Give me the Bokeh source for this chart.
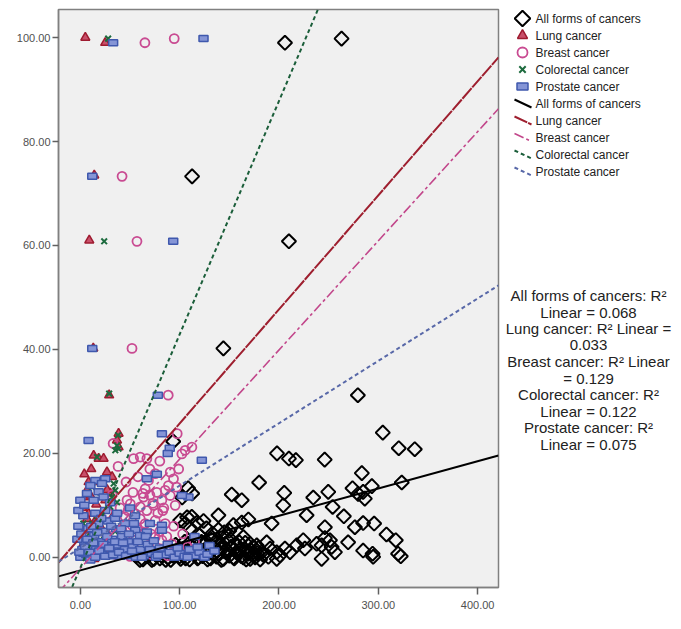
from bokeh.models import (
    Range1d,
    FixedTicker,
    NumeralTickFormatter,
)
from bokeh.plotting import figure
from bokeh.layouts import row
from bokeh.core.properties import value
from bokeh.embed import file_html
from bokeh.resources import INLINE

# data
all_x = [206, 263, 112.5, 210, 144, 279.4, 304.5, 320.6, 336.7, 198, 210, 217, 246, 93.5, 180,
         152.4, 162.5, 205.3, 204.3, 234.5, 249.6, 254, 279.7, 286.4, 284.7, 283.4, 274, 293.5, 323.6,
         108.5, 102.5, 112.6, 100.5, 105.5, 110.5, 117.6, 107.5,
         139, 124, 112.2, 169.2, 162.5, 154.1, 192.6, 227.8, 265.3, 246.2, 276.4, 284.7, 295.8, 308.2,
         317.6, 269.6, 284.7, 294.2, 294.8, 319.9, 322.6, 242.9, 256.3, 246.2, 251.3, 237.9, 242.9, 253,
         224.4, 217.8, 226.1, 211.1, 206, 197.7, 201, 187.6, 191, 182.6, 177.6, 170.9, 164.1, 169.2,
         174.2, 189.3, 197.7,
         63, 68, 72, 76, 80, 84, 88, 91, 95, 98, 101, 104, 107, 110, 112, 115, 118, 120, 123, 125,
         128, 130, 132, 135, 137, 140, 142, 145, 147, 150, 152, 155, 157, 160, 162, 165, 167, 172,
         176, 179, 184, 120, 133, 145, 105, 96, 88, 139, 127, 150,
         100, 103, 106, 109, 113, 116, 119, 122, 126, 129, 131, 134, 136, 139, 141, 144, 146, 149,
         151, 154, 156, 159, 161, 164, 166, 168, 171, 174, 178, 181, 56, 60, 66, 74, 82, 86, 93]
all_y = [99, 99.8, 73.3, 60.8, 40.2, 31.2, 24.0, 21.0, 20.8, 20.0, 19.0, 18.7, 18.8, 22.3, 14.4,
         12.1, 11.0, 12.4, 10.0, 11.5, 12.6, 9.7, 12.2, 11.3, 12.6, 16.2, 13.3, 13.7, 14.4,
         13.3, 11.5, 12.3, 7.1, 6.5, 5.6, 6.7, 7.7,
         8.1, 7.0, 7.8, 7.3, 6.7, 6.2, 6.5, 8.1, 7.9, 5.8, 5.8, 6.6, 6.5, 4.4,
         3.3, 2.9, 1.3, 0.7, 0.1, 0.7, 0.2, -0.3, 1.0, 3.7, 3.3, 2.6, 2.3, 2.0,
         3.3, 2.3, 1.7, 1.0, 1.7, 1.0, 0.4, 2.9, 1.7, 1.0, 2.3, 2.6, 3.9, 0.7,
         0.4, 0.1, -0.3,
         -0.4, 0.2, -0.5, 0.5, -0.2, 0.8, 0.0, -0.5, 0.6, 1.4, -0.3, 0.3, 1.1, -0.4, 2.0, 0.5, -0.2, 1.5, 0.2, 2.8,
         -0.4, 0.9, 3.4, 1.8, 0.1, 2.6, -0.5, 1.2, 3.6, 0.3, 2.1, -0.2, 1.0, 2.9, 0.2, 1.6, -0.4, 1.3,
         0.0, 1.8, 0.5, 4.2, 4.6, 4.8, 3.0, 2.4, 1.6, 5.3, 5.6, 5.1,
         0.2, 1.6, -0.2, 2.6, 0.8, 2.4, 0.0, 3.0, 1.3, 2.2, -0.2, 0.6, 3.0, 0.8, 1.8, -0.3, 2.6, 1.0,
         3.5, 0.0, 2.5, 0.7, 1.5, 0.0, 2.8, 1.2, -0.3, 2.0, 0.8, -0.4, 0.3, -0.5, 0.8, -0.3, 0.4, -0.5, 0.3]

lung_x = [5, 25, 14, 9, 13, 29, 38.5, 36.9, 38.5, 13.4, 18.4, 23.4, 26.8, 8.3, 6.7, 5, 10.1, 25.1,
          30.2, 8.3, 6.7, 15.1, 5, 3, 8, 12, 18, 22, 27, 1, 14, 30, 35, 10, 20, 40, 45, 2, 16, 33,
          4, 11, 20, 27, 32]
lung_y = [100, 99, 73.5, 61, 40.2, 31.2, 23.8, 22.5, 21.2, 19.6, 19.0, 19.0, 16.4, 14.5, 12.9, 11.6,
          11.9, 11.0, 12.3, 8.4, 7.4, 7.1, 5.2, 2.5, 1.0, 3.8, 0.4, 2.2, 4.5, 0.0, -0.3, 1.5, 3.0,
          5.8, 6.0, 0.8, 2.5, 9.5, 10.2, 8.0, 16, 17, 14.5, 13, 15.5]

breast_x = [65, 94.5, 42, 57, 52, 88.5, 97.5, 105.5, 112.3, 102.2, 53.6, 60.3, 67, 90.5, 93.8, 88.7,
            75.4, 68.6, 65.3, 63.6, 60.3, 73.7, 85.4, 90.5, 82.1, 95.5, 50.3, 55.3, 60.3, 65.3, 52,
            75.4, 85.4, 63.6, 75.4, 82.1, 55.3, 68.6, 45.2, 41.9, 92.2, 33, 38, 46, 30, 36, 44, 50,
            58, 72, 80, 88, 100, 108, 26, 20, 40, 70, 78, 47, 63, 73, 83,
            45, 48, 53, 57, 62, 67, 71, 77, 80, 84, 87, 94, 97, 103, 110, 115, 32, 28, 58, 70, 80, 99]
breast_y = [99, 99.8, 73.3, 60.8, 40.2, 31.2, 23.8, 20.6, 21.2, 19.9, 19.0, 19.3, 19.0, 16.4, 15.1,
            13.8, 16.1, 14.8, 13.2, 11.6, 9.7, 10.0, 12.9, 11.9, 11.0, 10.0, 10.3, 8.4, 7.4, 6.5, 6.2,
            7.1, 6.5, 4.6, 3.9, 3.3, 3.3, 2.3, 7.8, 5.2, 2.6, 21.9, 17.5, 14.5, 2.0, 0.5, 1.5, 0.2,
            1.0, 0.5, 1.2, 0.3, 1.0, 2.0, 4.5, 1.5, 9.5, 12.0, 8.5, 11.0, 12.3, 10.4, 9.0,
            3.5, 9.0, 12.5, 5.5, 2.0, 9.0, 4.5, 12.5, 5.0, 9.5, 4.0, 6.0, 13.5, 4.5, 1.0, 3.0, 12.0,
            8.5, 15.5, 17.0, 18.5, 17.0]

colo_x = [28, 24, 29, 36.9, 38.5, 35.2, 16.8, 33.5, 35.2, 31.9, 36.9, 30.2, 21.8, 26.8, 16.8, 11.8,
          6, 14, 20, 24, 30, 9, 35, 40, 3, 38, 12, 20]
colo_y = [99.8, 60.8, 31.5, 21.5, 20.9, 20.6, 19.3, 14.2, 12.9, 11.6, 10.6, 9.7, 8.4, 7.1, 7.1, 6.5,
          4.0, 2.5, 0.5, 3.4, 1.2, 0.2, 5.0, 2.0, 6.5, 23.5, 13.5, 12.5]

pros_x = [33, 124, 12, 93.5, 12, 78, 8.3, 82.1, 90, 88, 122.3, 77, 67, 108.8, 102.2, 82.1, 82.1, 67,
          55.3, 15.1, 10.1, 6.7, 18.4, 23.4, 13.4, 25.1, 21.8,
          0, 2, 4, 6, 8, 10, 12, 14, 16, 18, 20, 22, 24, 26, 28, 30, 32, 34, 36, 38, 40, 42, 45, 48,
          50, 53, 56, 60, 64, 68, 72, 76, 80, 85, 90, 95, 100, 105, 110, 115, 120, 125, 130, -2, 3,
          15, 25, 35, 45, 55, 0, -3, 10, 60, 70, 115,
          1, 3, 5, 7, 9, 11, 13, 15, 17, 19, 21, 23, 25, 27, 29, 31, 33, 35, 37, 39, 41, 43, 46, 49,
          52, 54, 58, 62, 66, 70, 74, 78, 88, 98, 108, 118, 128, 135, -1, -2, 4, 30, 50]
pros_y = [99, 99.8, 73.3, 60.8, 40.2, 31.2, 22.5, 23.8, 21, 20, 18.7, 16, 15.1, 11.6, 11.9, 6.2, 5.2,
          4.9, 5.2, 14.8, 13.8, 12.3, 12.6, 11.6, 11.0, 15.1, 14.2,
          0, 1.5, 3, 0.5, 5.5, 2.2, 0.2, 4.2, 1.5, 6.5, 3.0, 0.5, 5.0, 2.0, 7.0, 0.3, 3.5, 1.0, 5.5,
          2.4, 0.2, 4.0, 1.5, 3.0, 0.5, 2.0, 0.0, 1.5, 0.3, 2.5, 0.8, 0.0, 1.8, 0.5, 1.0, 0.0, 0.8,
          0.2, 1.5, 0.3, 1.0, 0.0, 2.3, 6.0, 8.0, 8.5, 9.0, 7.5, 6.5, 8.0, 11.0, 3.5, -0.5, 4.2, 6.5,
          4.0,
          4.5, 0.8, 2.0, 3.5, 1.0, 6.0, 2.8, 0.0, 4.8, 1.2, 7.5, 2.5, 0.2, 4.0, 1.8, 6.0, 0.5, 3.0,
          8.5, 1.0, 5.5, 2.8, 0.3, 4.5, 1.2, 6.5, 3.0, 0.0, 4.0, 1.5, 3.2, 0.4, 2.5, 1.8, 0.0, 2.0,
          0.6, 1.2, 1.0, 9.0, 10.0, 10.5, 9.5]

groups = ["All forms of cancers", "Lung cancer", "Breast cancer", "Colorectal cancer", "Prostate cancer"]
# linear fit lines (gradient, intercept)
fit_slope = [0.0525, 0.2194, 0.21, 0.449, 0.12]
fit_intercept = [-2.5, 3.83, -2.1, -2.0, 1.8]
r2 = ["0.068", "0.033", "0.129", "0.122", "0.075"]

x_ticks = [0, 100, 200, 300, 400]
y_ticks = [0, 20, 40, 60, 80, 100]

x_lo, x_hi = -22, 421
y_lo, y_hi = -5.8, 105.4

H = 620
frame_top, frame_bottom = 9, 587
p = figure(width=500, height=H, output_backend="svg", toolbar_location=None,
           x_range=Range1d(x_lo, x_hi), y_range=Range1d(y_lo, y_hi),
           min_border_left=58, min_border_right=2, min_border_top=frame_top,
           min_border_bottom=H - frame_bottom)
p.background_fill_color = "#f0f0f0"
p.border_fill_color = "white"
p.outline_line_color = "#808080"
p.outline_line_width = 1.5
p.grid.grid_line_color = None

for ax in (p.xaxis, p.yaxis):
    ax.formatter = NumeralTickFormatter(format="0.00")
    ax.axis_line_color = "#808080"
    ax.axis_line_width = 1.5
    ax.major_tick_line_color = "#606060"
    ax.major_tick_line_width = 1.5
    ax.major_tick_in = 0
    ax.major_tick_out = 6
    ax.minor_tick_line_color = None
    ax.major_label_text_font = "Liberation Sans"
    ax.major_label_text_font_size = "11px"
    ax.major_label_text_color = "#505050"
p.xaxis.ticker = FixedTicker(ticks=x_ticks)
p.yaxis.ticker = FixedTicker(ticks=y_ticks)
p.yaxis.major_label_standoff = 2
p.xaxis.major_tick_out = 7
p.xaxis.major_label_standoff = 6

styles = [
    dict(marker="square", angle=0.7854, size=10, fill_color=None, line_color="black", line_width=2),
    dict(marker="triangle", size=9, fill_color="#c8506a", line_color="#9e1b30", line_width=1.5),
    dict(marker="circle", size=9, fill_color=None, line_color="#c94b92", line_width=1.8),
    dict(marker="x", size=8, line_color="#1d6b3e", line_width=2),
]
rect_style = dict(fill_color="#8595d6", line_color="#3f58ad", line_width=1.5)
p.scatter(all_x, all_y, **styles[0])
p.scatter(lung_x, lung_y, **styles[1])
p.scatter(breast_x, breast_y, **styles[2])
p.scatter(colo_x, colo_y, **styles[3])
p.rect(pros_x, pros_y, width=9, height=6, width_units="screen", height_units="screen", **rect_style)

line_colors = ["black", "#9e1f2f", "#c2478b", "#1b5e3a", "#5868a8"]
line_dashes = ["solid", "14 1", "10 3 3 3", "4 3", "4 3"]
line_widths = [2, 2, 1.6, 2, 2]
for k in range(len(groups)):
    xs = [x_lo, x_hi]
    ys = [fit_intercept[k] + fit_slope[k] * x for x in xs]
    p.line(xs, ys, line_color=line_colors[k], line_dash=line_dashes[k], line_width=line_widths[k])

# right-hand panel in pixel units (its frame lines up with the main frame in the row)
side_w = 175
side = figure(width=side_w, height=H, output_backend="svg", toolbar_location=None,
              x_range=Range1d(0, side_w), y_range=Range1d(frame_bottom, frame_top),
              min_border_left=0, min_border_right=0, min_border_top=frame_top,
              min_border_bottom=H - frame_bottom)
side.axis.visible = False
side.grid.grid_line_color = None
side.outline_line_color = None
side.background_fill_color = "white"

key_x = 22
row_y = [18 + 17 * i for i in range(10)]
for i, s in enumerate(styles):
    big = dict(s)
    big["size"] = s["size"] + 1
    side.scatter([key_x], [row_y[i]], **big)
side.rect([key_x], [row_y[4]], width=11, height=7, width_units="screen", height_units="screen",
          **rect_style)
for k in range(5):
    yk = row_y[5 + k]
    side.segment(x0=[key_x - 8], y0=[yk - 4], x1=[key_x + 9], y1=[yk + 4],
                 line_color=line_colors[k], line_dash=line_dashes[k] if k else "solid",
                 line_width=line_widths[k])
side.text(x=[35] * 10, y=row_y, text=groups + groups, text_baseline="middle",
          text_font=value("Liberation Sans"), text_font_size="12px", text_color="#222222")

note_lines = [
    "All forms of cancers: R\u00b2", "Linear = " + r2[0],
    "Lung cancer: R\u00b2 Linear =", r2[1],
    "Breast cancer: R\u00b2 Linear", "= " + r2[2],
    "Colorectal cancer: R\u00b2", "Linear = " + r2[3],
    "Prostate cancer: R\u00b2", "Linear = " + r2[4],
]
note_cx = 88
note_y0 = 295
note_step = 16.5
side.text(x=[note_cx] * len(note_lines), y=[note_y0 + i * note_step for i in range(len(note_lines))],
          text=note_lines, text_align="center", text_baseline="middle",
          text_font=value("Liberation Sans"), text_font_size="15px", text_color="#222222")

open("out.html", "w").write(file_html(row(p, side), INLINE))
